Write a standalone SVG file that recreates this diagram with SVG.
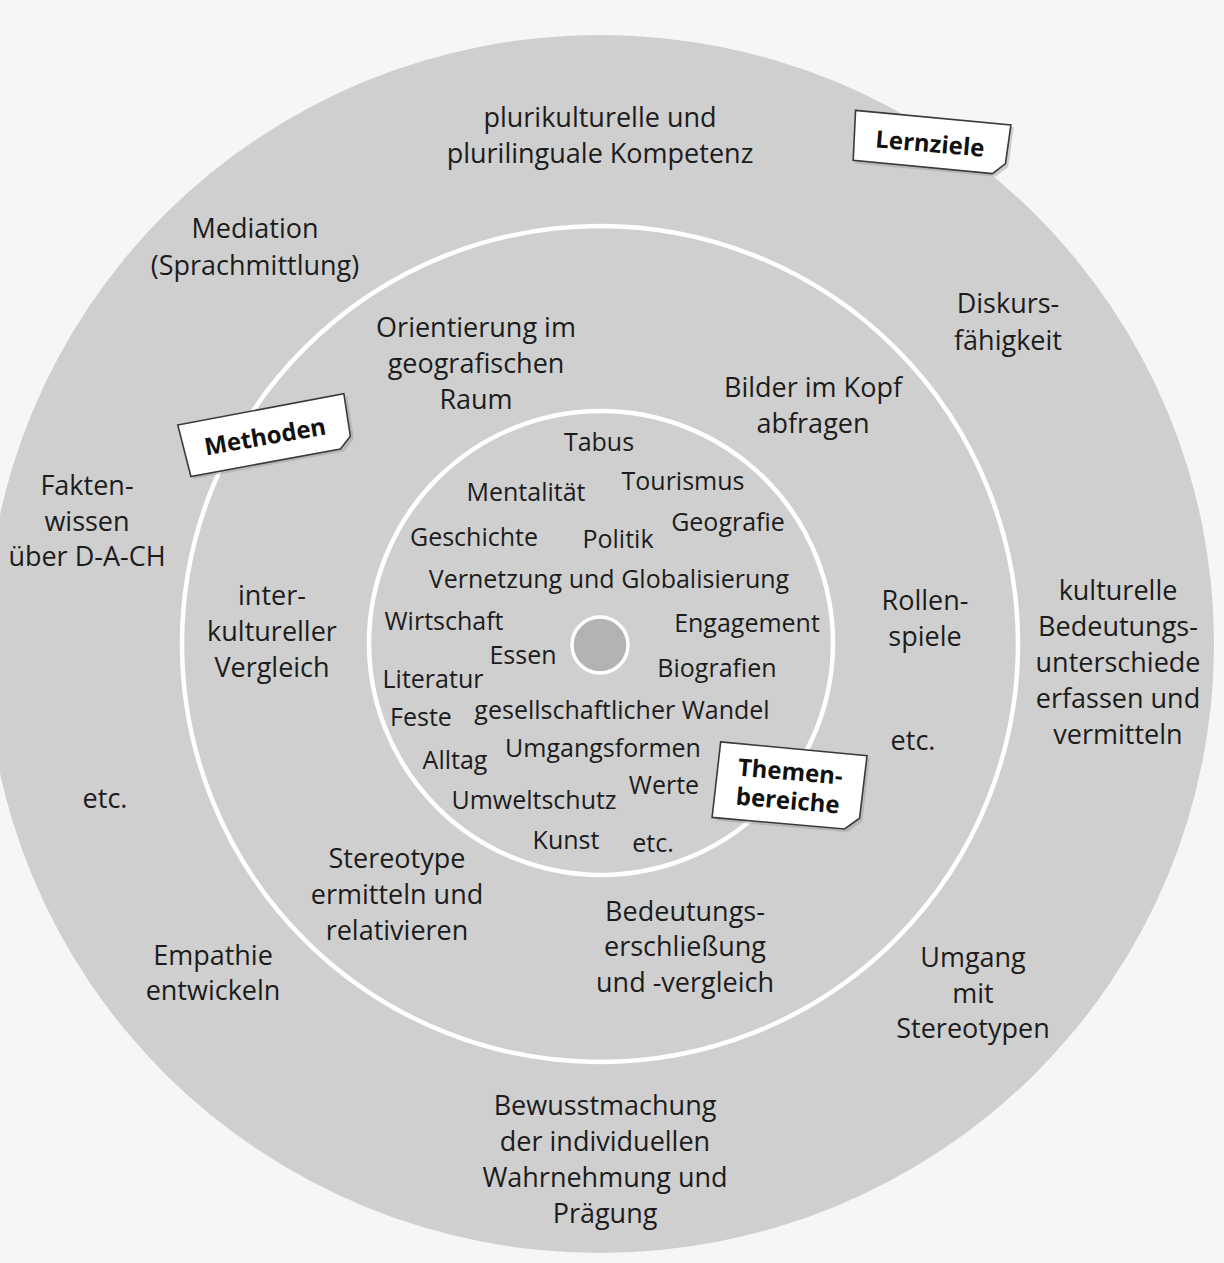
<svg xmlns="http://www.w3.org/2000/svg" width="1224" height="1263" viewBox="0 0 1224 1263">
<style>
text{font-family:"Open Sans","Noto Sans","DejaVu Sans",sans-serif;fill:#1c1c1c;text-anchor:middle}
.t{font-size:27px}
.s{font-size:25px}
.lb{font-size:24px;font-weight:bold;fill:#111}
.ring{fill:none;stroke:#ffffff;stroke-width:4.5}
.box{fill:#ffffff;stroke:#3a3a3a;stroke-width:1.6}
.sh{fill:#9a9a9a;opacity:0.45}
</style>
<rect width="1224" height="1263" fill="#f6f6f6"/>
<g id="disc">
<ellipse cx="600" cy="644" rx="614" ry="609" fill="#cfcfcf"/>
<circle class="ring" cx="600" cy="644" r="418"/>
<circle class="ring" cx="601" cy="643" r="232"/>
<circle cx="600" cy="645" r="28" fill="#b3b3b3" stroke="#ffffff" stroke-width="3.5"/>
</g>
<g id="connectors"/>
<g id="lernziele-items">
<g id="n-plurikulturell"><text class="t" x="600" y="127">plurikulturelle und</text><text class="t" x="600" y="163">plurilinguale Kompetenz</text></g>
<g id="n-mediation"><text class="t" x="255" y="238">Mediation</text><text class="t" x="255" y="275">(Sprachmittlung)</text></g>
<g id="n-diskurs"><text class="t" x="1008" y="313">Diskurs-</text><text class="t" x="1008" y="350">fähigkeit</text></g>
<g id="n-fakten"><text class="t" x="87" y="495">Fakten-</text><text class="t" x="87" y="531">wissen</text><text class="t" x="87" y="566">über D-A-CH</text></g>
<g id="n-kulturelle"><text class="t" x="1118" y="600">kulturelle</text><text class="t" x="1118" y="636">Bedeutungs-</text><text class="t" x="1118" y="672">unterschiede</text><text class="t" x="1118" y="708">erfassen und</text><text class="t" x="1118" y="744">vermitteln</text></g>
<g id="n-etc-outer"><text class="t" x="105" y="808">etc.</text></g>
<g id="n-empathie"><text class="t" x="213" y="965">Empathie</text><text class="t" x="213" y="1000">entwickeln</text></g>
<g id="n-umgang"><text class="t" x="973" y="967">Umgang</text><text class="t" x="973" y="1003">mit</text><text class="t" x="973" y="1038">Stereotypen</text></g>
<g id="n-bewusst"><text class="t" x="605" y="1115">Bewusstmachung</text><text class="t" x="605" y="1151">der individuellen</text><text class="t" x="605" y="1187">Wahrnehmung und</text><text class="t" x="605" y="1223">Prägung</text></g>
</g>
<g id="methoden-items">
<g id="n-orientierung"><text class="t" x="476" y="337">Orientierung im</text><text class="t" x="476" y="373">geografischen</text><text class="t" x="476" y="409">Raum</text></g>
<g id="n-bilder"><text class="t" x="813" y="397">Bilder im Kopf</text><text class="t" x="813" y="433">abfragen</text></g>
<g id="n-inter"><text class="t" x="272" y="605">inter-</text><text class="t" x="272" y="641">kultureller</text><text class="t" x="272" y="677">Vergleich</text></g>
<g id="n-rollen"><text class="t" x="925" y="610">Rollen-</text><text class="t" x="925" y="646">spiele</text></g>
<g id="n-etc-middle"><text class="t" x="913" y="750">etc.</text></g>
<g id="n-stereotype"><text class="t" x="397" y="868">Stereotype</text><text class="t" x="397" y="904">ermitteln und</text><text class="t" x="397" y="940">relativieren</text></g>
<g id="n-bedeutung"><text class="t" x="685" y="921">Bedeutungs-</text><text class="t" x="685" y="956">erschließung</text><text class="t" x="685" y="992">und -vergleich</text></g>
</g>
<g id="themen-items">
<g id="n-tabus"><text class="s" x="599" y="451">Tabus</text></g>
<g id="n-mentalitaet"><text class="s" x="526" y="501">Mentalität</text></g>
<g id="n-tourismus"><text class="s" x="683" y="490">Tourismus</text></g>
<g id="n-geschichte"><text class="s" x="474" y="546">Geschichte</text></g>
<g id="n-politik"><text class="s" x="618" y="548">Politik</text></g>
<g id="n-geografie"><text class="s" x="728" y="531">Geografie</text></g>
<g id="n-vernetzung"><text class="s" x="609" y="588">Vernetzung und Globalisierung</text></g>
<g id="n-wirtschaft"><text class="s" x="444" y="630">Wirtschaft</text></g>
<g id="n-engagement"><text class="s" x="747" y="632">Engagement</text></g>
<g id="n-essen"><text class="s" x="523" y="664">Essen</text></g>
<g id="n-literatur"><text class="s" x="433" y="688">Literatur</text></g>
<g id="n-biografien"><text class="s" x="717" y="677">Biografien</text></g>
<g id="n-feste"><text class="s" x="421" y="726">Feste</text></g>
<g id="n-wandel"><text class="s" x="622" y="719">gesellschaftlicher Wandel</text></g>
<g id="n-alltag"><text class="s" x="455" y="769">Alltag</text></g>
<g id="n-umgangsformen"><text class="s" x="603" y="757">Umgangsformen</text></g>
<g id="n-werte"><text class="s" x="664" y="794">Werte</text></g>
<g id="n-umweltschutz"><text class="s" x="534" y="809">Umweltschutz</text></g>
<g id="n-kunst"><text class="s" x="566" y="849">Kunst</text></g>
<g id="n-etc-inner"><text class="s" x="653" y="852">etc.</text></g>
</g>
<g id="label-lernziele" transform="translate(930,143) rotate(5)">
<path class="sh" d="M-76,-23 L82,-23 L80,17 L68,28 L-73,27 Z"/>
<path class="box" d="M-77,-26 L79,-25 L77,14 L65,25 L-75,24 Z"/>
<text class="lb" x="0" y="9">Lernziele</text>
</g>
<g id="label-methoden" transform="translate(265,436) rotate(-10)">
<path class="sh" d="M-82,-23 L88,-25 L87,18 L75,29 L-78,30 Z"/>
<path class="box" d="M-84,-26 L85,-28 L84,15 L72,26 L-80,27 Z"/>
<text class="lb" x="0" y="9">Methoden</text>
</g>
<g id="label-themen" transform="translate(789,787) rotate(5)">
<path class="sh" d="M-70,-36 L78,-35 L76,28 L62,40 L-69,40 Z"/>
<path class="box" d="M-72,-39 L75,-38 L73,25 L59,37 L-74,37 Z"/>
<text class="lb" x="0" y="-7">Themen-</text>
<text class="lb" x="0" y="22">bereiche</text>
</g>
</svg>
